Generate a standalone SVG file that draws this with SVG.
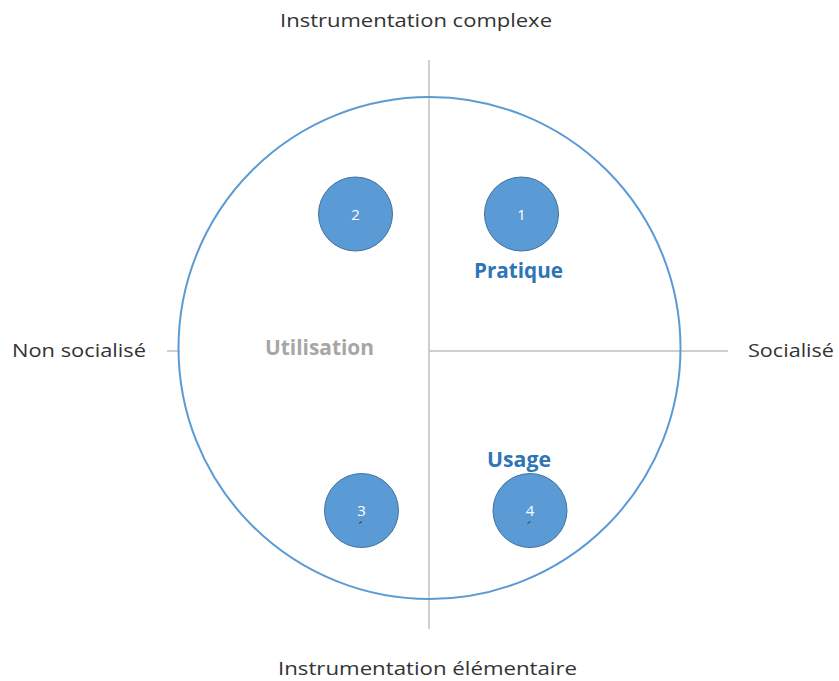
<svg xmlns="http://www.w3.org/2000/svg" width="839" height="681" viewBox="0 0 839 681">
<style>
.axis{stroke:#BFBFBF;stroke-width:1.5;fill:none}
.big{stroke:#5B9BD5;stroke-width:2;fill:none}
.node{fill:#5B9BD5;stroke:#41719C;stroke-width:1}
.num{font-family:"Open Sans","Liberation Sans",sans-serif;font-size:15px;fill:#FFFFFF;text-anchor:middle}
.lbl{font-family:"Open Sans","Liberation Sans",sans-serif;font-size:19px;fill:#333333}
.q{font-family:"Open Sans","Liberation Sans",sans-serif;font-size:20.5px;font-weight:bold}
</style>
<rect width="839" height="681" fill="#FFFFFF"/>
<g id="connectors">
<line class="axis" x1="429" y1="60" x2="429" y2="629"/>
<line class="axis" x1="167" y1="351" x2="180" y2="351"/>
<line class="axis" x1="429" y1="351" x2="728" y2="351"/>
</g>
<g id="circle"><circle class="big" cx="429.5" cy="348" r="251"/></g>
<g id="node1"><circle class="node" cx="521.5" cy="214" r="37"/><text class="num" x="521.5" y="219.5">1</text></g>
<g id="node2"><circle class="node" cx="355.5" cy="214" r="37"/><text class="num" x="355.5" y="219.5">2</text></g>
<g id="node3"><circle class="node" cx="361.5" cy="510.5" r="37"/><text class="num" x="361.5" y="515.5">3</text><line x1="359" y1="523.5" x2="362" y2="521.5" stroke="#333" stroke-width="1"/></g>
<g id="node4"><circle class="node" cx="530" cy="510.5" r="37"/><text class="num" x="530" y="515.5">4</text><line x1="527.5" y1="523.5" x2="530.5" y2="521.5" stroke="#333" stroke-width="1"/></g>
<g id="quadrant-labels">
<text class="q" x="474" y="278" fill="#2E75B6" textLength="89" lengthAdjust="spacingAndGlyphs">Pratique</text>
<text class="q" x="487" y="467" fill="#2E75B6" textLength="64" lengthAdjust="spacingAndGlyphs">Usage</text>
<text class="q" x="265" y="355" fill="#A6A6A6" textLength="109" lengthAdjust="spacingAndGlyphs">Utilisation</text>
</g>
<g id="axis-labels">
<text class="lbl" x="280" y="27" textLength="272" lengthAdjust="spacingAndGlyphs">Instrumentation complexe</text>
<text class="lbl" x="278" y="675" textLength="299" lengthAdjust="spacingAndGlyphs">Instrumentation élémentaire</text>
<text class="lbl" x="12" y="357" textLength="134" lengthAdjust="spacingAndGlyphs">Non socialisé</text>
<text class="lbl" x="748" y="357" textLength="86" lengthAdjust="spacingAndGlyphs">Socialisé</text>
</g>
</svg>
